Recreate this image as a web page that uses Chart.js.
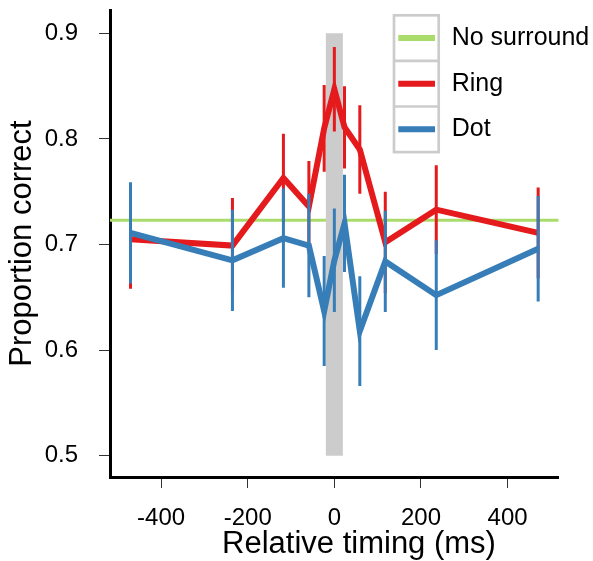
<!DOCTYPE html>
<html><head><meta charset="utf-8">
<script src="https://cdn.jsdelivr.net/npm/chart.js@4.4.1/dist/chart.umd.min.js"></script>
<style>html,body{margin:0;padding:0;background:#fff;} canvas{display:block;}</style>
</head><body>
<canvas id="c" width="593" height="561"></canvas>
<script>
// ---- data ----
const timings  = [-470.6, -235.3, -117.6, -58.8, -23.5, 0, 23.5, 58.8, 117.6, 235.3, 470.6];
const ringMean = [0.705, 0.699, 0.763, 0.736, 0.810, 0.847, 0.811, 0.790, 0.702, 0.733, 0.711];
const ringErr  = [0.047, 0.045, 0.042, 0.043, 0.041, 0.040, 0.039, 0.042, 0.048, 0.042, 0.043];
const dotMean  = [0.711, 0.685, 0.706, 0.699, 0.637, 0.685, 0.720, 0.618, 0.684, 0.652, 0.696];
const dotErr   = [0.048, 0.048, 0.047, 0.049, 0.052, 0.049, 0.046, 0.052, 0.048, 0.052, 0.050];
const noSurround = 0.723;
const bandX = 0;
const bandY = [0.5, 0.9];
const seriesNames = ['No surround', 'Ring', 'Dot'];
const xTicks = [-400, -200, 0, 200, 400];
const yTicks = [0.5, 0.6, 0.7, 0.8, 0.9];
const xRange = [-518, 518];
const yRange = [0.4798, 0.9221];
const xTitle = 'Relative timing (ms)';
const yTitle = 'Proportion correct';

// ---- styles ----
const FONT = 'Liberation Sans';
const GREEN = '#a9dc6b', RED = '#e41a1c', BLUE = '#377eb8', GRAY = '#cccccc';
Chart.defaults.font.family = FONT;

function errSegments(xs, m, e) {
  const out = [];
  xs.forEach((x, i) => {
    out.push({x: x, y: m[i] - e[i]});
    out.push({x: x, y: m[i] + e[i]});
    out.push({x: x, y: null});
  });
  return out;
}
const lineOf = (xs, ys) => xs.map((x, i) => ({x: x, y: ys[i]}));

const boxLegend = {
  id: 'boxLegend',
  afterDraw(chart) {
    const ctx = chart.ctx;
    const cols = [GREEN, RED, BLUE];
    const L = 394, R = 438.7, T = 15.3, H = 45.6;
    ctx.save();
    ctx.strokeStyle = GRAY; ctx.lineWidth = 2.7;
    ctx.strokeRect(L, T, R - L, H * 3);
    for (let i = 1; i < 3; i++) {
      ctx.beginPath(); ctx.moveTo(L, T + i * H); ctx.lineTo(R, T + i * H); ctx.stroke();
    }
    seriesNames.forEach((name, i) => {
      const cy = T + H * (i + 0.5);
      ctx.strokeStyle = cols[i]; ctx.lineWidth = 6; ctx.lineCap = 'butt';
      ctx.beginPath(); ctx.moveTo(398.3, cy); ctx.lineTo(435, cy); ctx.stroke();
      ctx.fillStyle = '#000'; ctx.font = '25px "' + FONT + '"';
      ctx.textBaseline = 'middle'; ctx.textAlign = 'left';
      ctx.fillText(name, 451.7, cy);
    });
    // x axis title
    ctx.fillStyle = '#000'; ctx.font = '31px "' + FONT + '"';
    ctx.textAlign = 'center'; ctx.textBaseline = 'alphabetic';
    ctx.fillText(xTitle, 359, 553);
    ctx.restore();
  }
};

const common = {pointRadius: 0, pointHoverRadius: 0, tension: 0, fill: false};

new Chart(document.getElementById('c'), {
  type: 'line',
  data: {
    datasets: [
      Object.assign({label: seriesNames[2], data: lineOf(timings, dotMean), borderColor: BLUE, borderWidth: 6,
        borderJoinStyle: 'miter', borderCapStyle: 'butt', order: 1}, common),
      Object.assign({label: 'Dot SE', data: errSegments(timings, dotMean, dotErr), borderColor: BLUE, borderWidth: 3,
        borderCapStyle: 'butt', spanGaps: false, order: 2}, common),
      Object.assign({label: seriesNames[1], data: lineOf(timings, ringMean), borderColor: RED, borderWidth: 6,
        borderJoinStyle: 'miter', borderCapStyle: 'butt', order: 3}, common),
      Object.assign({label: 'Ring SE', data: errSegments(timings, ringMean, ringErr), borderColor: RED, borderWidth: 3,
        borderCapStyle: 'butt', spanGaps: false, order: 4}, common),
      Object.assign({label: 'Stimulus', data: [{x: bandX, y: bandY[0]}, {x: bandX, y: bandY[1]}], borderColor: GRAY,
        borderWidth: 17, borderCapStyle: 'butt', order: 5}, common),
      Object.assign({label: seriesNames[0], data: [{x: xRange[0], y: noSurround}, {x: xRange[1], y: noSurround}],
        borderColor: GREEN, borderWidth: 3, borderCapStyle: 'butt', order: 6}, common)
    ]
  },
  options: {
    responsive: false,
    animation: false,
    devicePixelRatio: 1,
    layout: {padding: {left: 0, top: 10, right: 34.3, bottom: 0}},
    plugins: {legend: {display: false}, tooltip: {enabled: false}},
    scales: {
      x: {
        type: 'linear', min: xRange[0], max: xRange[1],
        afterBuildTicks: s => { s.ticks = xTicks.map(v => ({value: v})); },
        afterFit: s => { s.height = 84; s.paddingLeft = 0; s.paddingRight = 0; },
        grid: {display: true, drawOnChartArea: false, drawTicks: true, tickLength: 11, color: '#333', lineWidth: 1},
        border: {display: true, color: '#000', width: 3},
        ticks: {color: '#000', font: {size: 24}, padding: 16, maxRotation: 0, autoSkip: false,
          callback: v => String(v)},
        title: {display: false}
      },
      y: {
        type: 'linear', min: yRange[0], max: yRange[1],
        afterBuildTicks: s => { s.ticks = yTicks.map(v => ({value: v})); },
        afterFit: s => { s.width = 110; s.paddingTop = 0; s.paddingBottom = 0; },
        grid: {display: true, drawOnChartArea: false, drawTicks: true, tickLength: 11, color: '#333', lineWidth: 1},
        border: {display: true, color: '#000', width: 3},
        ticks: {color: '#000', font: {size: 24}, padding: 21, autoSkip: false,
          callback: v => Number(v).toFixed(1)},
        title: {display: true, text: yTitle, color: '#000', font: {size: 31}, padding: {top: 4, bottom: 0}}
      }
    }
  },
  plugins: [boxLegend]
});
</script>
</body></html>
